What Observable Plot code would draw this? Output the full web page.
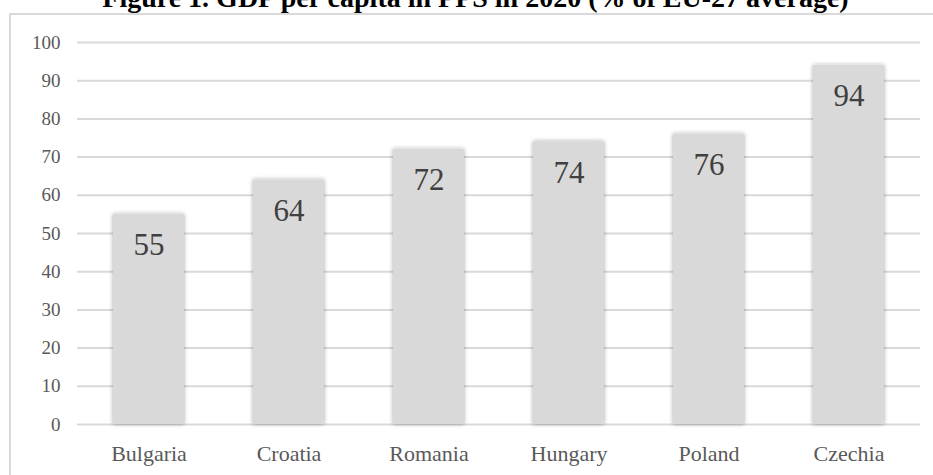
<!DOCTYPE html>
<html>
<head>
<meta charset="utf-8">
<script src="https://cdn.jsdelivr.net/npm/d3@7"></script>
<script src="https://cdn.jsdelivr.net/npm/@observablehq/plot@0.6"></script>
<style>
  html, body { margin: 0; padding: 0; background: #fff; overflow: hidden; }
  #wrap { position: relative; width: 933px; height: 475px; overflow: hidden; }
  #frame {
    position: absolute; left: 9px; top: 13px; width: 940px; height: 480px;
    border-left: 2px solid #d9d9d9; border-top: 2px solid #d9d9d9; box-sizing: border-box;
  }
  #title {
    position: absolute; left: 9px; width: 933px; top: -16px; text-align: center;
    font: bold 28px/28px "Liberation Serif", "Times New Roman", serif; color: #000;
    white-space: nowrap;
  }
  #chart { position: absolute; left: 0; top: 0; }
</style>
</head>
<body>
<div id="wrap">
  <div id="frame"></div>
  <div id="title">Figure 1. GDP per capita in PPS in 2020 (% of EU-27 average)</div>
  <div id="chart"></div>
</div>
<script>
// GDP per capita in PPS, 2020, as % of the EU-27 average
const countries = ["Bulgaria", "Croatia", "Romania", "Hungary", "Poland", "Czechia"];
const values = [55, 64, 72, 74, 76, 94];
const yTicks = [0, 10, 20, 30, 40, 50, 60, 70, 80, 90, 100];

const rows = countries.map((country, i) => ({country, value: values[i]}));
const serif = "Liberation Serif, Times New Roman, serif";

const plot = Plot.plot({
  width: 933,
  height: 475,
  marginTop: 42,
  marginBottom: 51,
  marginLeft: 77,
  marginRight: 13,
  style: {fontFamily: serif, background: "transparent", overflow: "visible"},
  x: {domain: countries, paddingInner: 0.495, paddingOuter: 0.2475, axis: null},
  y: {domain: [0, 100], axis: null},
  marks: [
    Plot.ruleY(yTicks, {stroke: "#d9d9d9", strokeWidth: 2}),
    Plot.barY(rows, {x: "country", y: "value", fill: "#d9d9d9"}),
    Plot.text(rows, {
      x: "country", y: "value", text: d => String(d.value),
      lineAnchor: "bottom", dy: 41, fontSize: 31, fill: "#404040", fontFamily: serif
    }),
    // y tick labels
    Plot.text(yTicks, {
      y: d => d, text: d => String(d), frameAnchor: "left", textAnchor: "end",
      dx: -17, fontSize: 19, fill: "#595959", fontFamily: serif
    }),
    // category labels under the bars
    Plot.text(countries, {
      x: d => d, y: () => 0, text: d => d, lineAnchor: "bottom", dy: 36,
      fontSize: 22, fill: "#595959", fontFamily: serif
    })
  ]
});

// soft drop shadow around the bars
const svg = d3.select(plot);
const defs = svg.insert("defs", ":first-child");
const f = defs.append("filter").attr("id", "barShadow")
  .attr("x", "-20%").attr("y", "-20%").attr("width", "140%").attr("height", "140%");
f.append("feDropShadow").attr("dx", 0).attr("dy", 0).attr("stdDeviation", 2)
  .attr("flood-color", "#000").attr("flood-opacity", 0.35);
svg.selectAll("g[aria-label='bar'] rect").attr("filter", "url(#barShadow)");

document.getElementById("chart").appendChild(plot);
</script>
</body>
</html>
